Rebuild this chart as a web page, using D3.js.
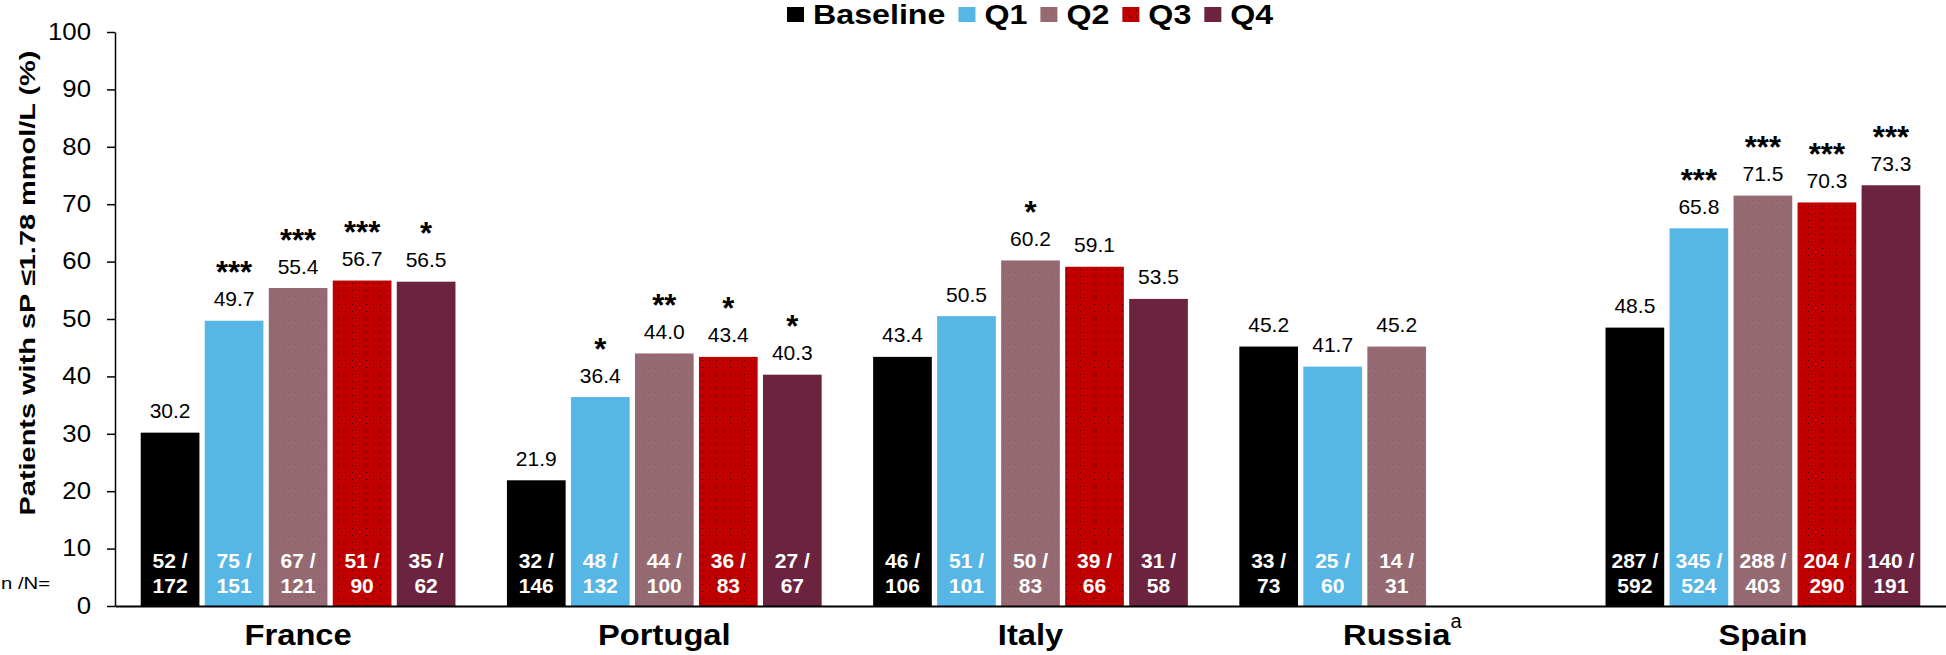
<!DOCTYPE html>
<html>
<head>
<meta charset="utf-8">
<script src="https://cdn.jsdelivr.net/npm/d3@7"></script>
<style>
  html, body { margin: 0; padding: 0; background: #fff; }
  svg { display: block; font-family: "Liberation Sans", Arial, sans-serif; }
</style>
</head>
<body>
<svg id="chart" width="1946" height="655"></svg>
<script>
// ---------- DATA ----------
const countries = ["France", "Portugal", "Italy", "Russia", "Spain"];
const seriesNames = ["Baseline", "Q1", "Q2", "Q3", "Q4"];
const seriesColors = ["#000000", "#56b6e6", "#966a72", "#c00000", "#6b2340"];

// values per series, in the order of the countries (null = no bar)
const valuesBaseline = [30.2, 21.9, 43.4, 45.2, 48.5];
const valuesQ1 = [49.7, 36.4, 50.5, 41.7, 65.8];
const valuesQ2 = [55.4, 44.0, 60.2, 45.2, 71.5];
const valuesQ3 = [56.7, 43.4, 59.1, null, 70.3];
const valuesQ4 = [56.5, 40.3, 53.5, null, 73.3];

// n / N per series
const nBaseline = [52, 32, 46, 33, 287];
const NBaseline = [172, 146, 106, 73, 592];
const nQ1 = [75, 48, 51, 25, 345];
const NQ1 = [151, 132, 101, 60, 524];
const nQ2 = [67, 44, 50, 14, 288];
const NQ2 = [121, 100, 83, 31, 403];
const nQ3 = [51, 36, 39, null, 204];
const NQ3 = [90, 83, 66, null, 290];
const nQ4 = [35, 27, 31, null, 140];
const NQ4 = [62, 67, 58, null, 191];

// significance markers
const starsBaseline = ["", "", "", "", ""];
const starsQ1 = ["***", "*", "", "", "***"];
const starsQ2 = ["***", "**", "*", "", "***"];
const starsQ3 = ["***", "*", "", "", "***"];
const starsQ4 = ["*", "*", "", "", "***"];

const yTicks = [0, 10, 20, 30, 40, 50, 60, 70, 80, 90, 100];
const yTitle = "Patients with sP \u22641.78 mmol/L (%)";
const nLabel = "n /N=";
const russiaNote = "a";

// ---------- BUILD ----------
const allValues = [valuesBaseline, valuesQ1, valuesQ2, valuesQ3, valuesQ4];
const allN = [nBaseline, nQ1, nQ2, nQ3, nQ4];
const allNN = [NBaseline, NQ1, NQ2, NQ3, NQ4];
const allStars = [starsBaseline, starsQ1, starsQ2, starsQ3, starsQ4];

const bars = [];
countries.forEach((c, ci) => {
  seriesNames.forEach((s, si) => {
    const v = allValues[si][ci];
    if (v == null) return;
    bars.push({country: c, series: s, si, value: v, n: allN[si][ci], N: allNN[si][ci], stars: allStars[si][ci]});
  });
});

const svg = d3.select("#chart");
const W = 1946, H = 655;
const FONT = "Liberation Sans, Arial, sans-serif";

// patterns for textured fills
const defs = svg.append("defs");
const p2 = defs.append("pattern").attr("id", "pat2").attr("patternUnits", "userSpaceOnUse")
  .attr("width", 6).attr("height", 6);
p2.append("rect").attr("width", 6).attr("height", 6).attr("fill", seriesColors[2]);
p2.append("rect").attr("x", 1).attr("y", 2).attr("width", 1).attr("height", 1).attr("fill", "#6e5458").attr("opacity", 0.6);
const p3 = defs.append("pattern").attr("id", "pat3").attr("patternUnits", "userSpaceOnUse")
  .attr("width", 7).attr("height", 7);
p3.append("rect").attr("width", 7).attr("height", 7).attr("fill", seriesColors[3]);
p3.append("rect").attr("x", 2).attr("y", 3).attr("width", 1).attr("height", 1).attr("fill", "#000").attr("opacity", 0.75);
const fillFor = si => si === 2 ? "url(#pat2)" : si === 3 ? "url(#pat3)" : seriesColors[si];

const x0 = d3.scaleBand().domain(countries).range([115, W]).paddingInner(0.126).paddingOuter(0.063);
const x1 = d3.scaleBand().domain(seriesNames).range([0, x0.bandwidth()]).paddingInner(0.083).paddingOuter(0.0415);
const y = d3.scaleLinear().domain([0, 100]).range([606, 32]);

// bars
svg.append("g").selectAll("rect").data(bars).join("rect")
  .attr("x", d => x0(d.country) + x1(d.series))
  .attr("y", d => y(d.value))
  .attr("width", x1.bandwidth())
  .attr("height", d => y(0) - y(d.value))
  .attr("fill", d => fillFor(d.si));

// value labels
svg.append("g").selectAll("text").data(bars).join("text")
  .attr("x", d => x0(d.country) + x1(d.series) + x1.bandwidth() / 2)
  .attr("y", d => y(d.value) - 14.5)
  .attr("text-anchor", "middle")
  .attr("font-size", 21)
  .attr("fill", "#000")
  .text(d => d.value.toFixed(1));

// stars
svg.append("g").selectAll("text").data(bars.filter(d => d.stars)).join("text")
  .attr("x", d => x0(d.country) + x1(d.series) + x1.bandwidth() / 2)
  .attr("y", d => y(d.value) - 14.5 - 23)
  .attr("text-anchor", "middle")
  .attr("font-size", 31)
  .attr("font-weight", "bold")
  .attr("fill", "#000")
  .text(d => d.stars);

// n / N labels inside bars
const nn = svg.append("g").selectAll("text").data(bars).join("text")
  .attr("text-anchor", "middle")
  .attr("font-size", 21)
  .attr("font-weight", "bold")
  .attr("fill", "#fff");
nn.append("tspan")
  .attr("x", d => x0(d.country) + x1(d.series) + x1.bandwidth() / 2)
  .attr("y", y(0) - 38.3)
  .text(d => d.n + " /");
nn.append("tspan")
  .attr("x", d => x0(d.country) + x1(d.series) + x1.bandwidth() / 2)
  .attr("y", y(0) - 12.7)
  .text(d => d.N);

// y axis
const yAxis = svg.append("g").attr("transform", "translate(115,0)")
  .call(d3.axisLeft(y).tickValues(yTicks).tickSize(8).tickSizeOuter(0).tickPadding(16));
yAxis.select(".domain").attr("stroke", "#000").attr("stroke-width", 1.5);
yAxis.selectAll(".tick line").attr("stroke", "#000").attr("stroke-width", 1.5);
yAxis.selectAll(".tick text").attr("font-size", 23).attr("fill", "#000")
  .attr("font-family", FONT)
  .each(function () {
    const L = this.getComputedTextLength();
    d3.select(this).attr("textLength", L * 1.12).attr("lengthAdjust", "spacingAndGlyphs");
  });

// x axis
const xAxis = svg.append("g").attr("transform", `translate(0,${y(0)})`)
  .call(d3.axisBottom(x0).tickSize(0).tickSizeOuter(0).tickPadding(18));
xAxis.select(".domain").attr("stroke", "#000").attr("stroke-width", 2);
xAxis.selectAll(".tick text")
  .attr("font-size", 30).attr("font-weight", "bold").attr("fill", "#000")
  .attr("font-family", FONT)
  .each(function () {
    const L = this.getComputedTextLength();
    d3.select(this).attr("textLength", L * 1.09).attr("lengthAdjust", "spacingAndGlyphs");
  });
// superscript note for Russia
xAxis.selectAll(".tick").filter(d => d === "Russia").each(function () {
  const L = this.querySelector("text").getComputedTextLength() * 1.09;
  d3.select(this).append("text")
    .attr("x", L / 2 + 1)
    .attr("y", 22)
    .attr("font-size", 20)
    .attr("fill", "#000")
    .attr("font-family", FONT)
    .text(russiaNote);
});

// y title
svg.append("text")
  .attr("transform", "translate(35,283) rotate(-90)")
  .attr("text-anchor", "middle")
  .attr("font-size", 22)
  .attr("font-weight", "bold")
  .attr("fill", "#000")
  .attr("textLength", 465)
  .attr("lengthAdjust", "spacingAndGlyphs")
  .text(yTitle);

// n/N label
svg.append("text")
  .attr("x", 50).attr("y", 589)
  .attr("text-anchor", "end")
  .attr("font-size", 17)
  .attr("fill", "#000")
  .attr("textLength", 49)
  .attr("lengthAdjust", "spacingAndGlyphs")
  .text(nLabel);

// legend
const legend = svg.append("g");
let lx = 787;
seriesNames.forEach((s, si) => {
  legend.append("rect").attr("x", lx).attr("y", 7).attr("width", 17).attr("height", 15).attr("fill", fillFor(si));
  const t = legend.append("text").attr("x", lx + 26).attr("y", 24)
    .attr("font-size", 28).attr("font-weight", "bold").attr("fill", "#000").text(s);
  const L = t.node().getComputedTextLength() * 1.15;
  t.attr("textLength", L).attr("lengthAdjust", "spacingAndGlyphs");
  lx = lx + 26 + L + 13;
});
</script>
</body>
</html>
